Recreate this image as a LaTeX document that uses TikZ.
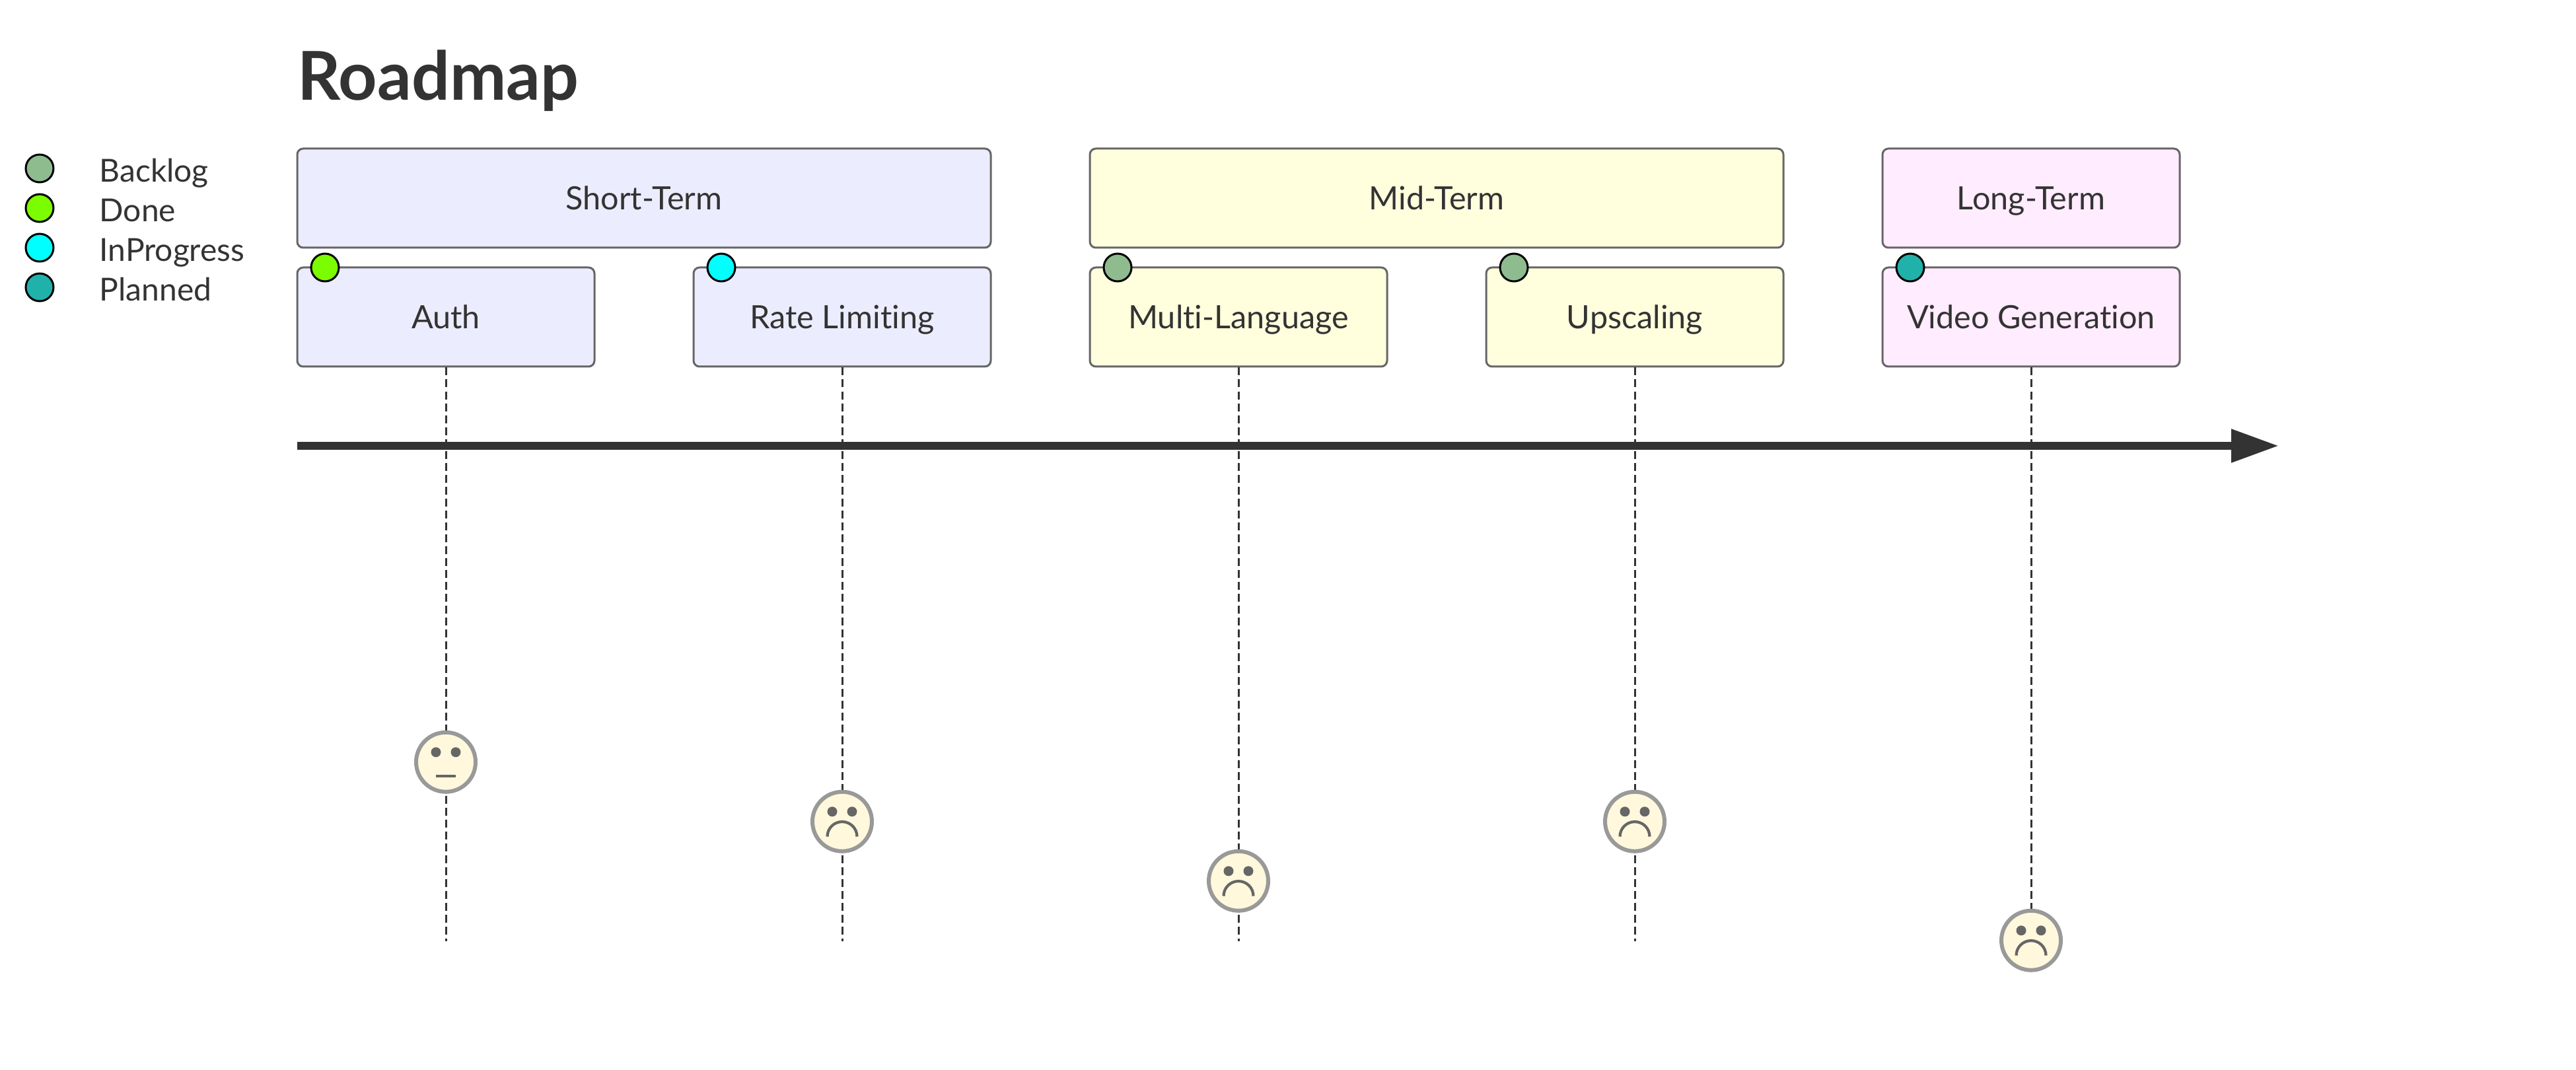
\documentclass[tikz,border=0pt]{standalone}
\usepackage{fontspec}
\setmainfont[Ligatures=NoCommon]{Lato}
\usetikzlibrary{arrows.meta}
\definecolor{textColor}{HTML}{333333}
\definecolor{boxLine}{HTML}{666666}
\definecolor{faceLine}{HTML}{999999}
\definecolor{faceFill}{HTML}{FFF8DC}
\definecolor{featureColor}{HTML}{666666}
\definecolor{shortFill}{HTML}{ECECFF}
\definecolor{midFill}{HTML}{FFFFDE}
\definecolor{longFill}{HTML}{FFECFE}
\definecolor{backlogColor}{HTML}{8FBC8F}
\definecolor{doneColor}{HTML}{7CFC00}
\definecolor{progressColor}{HTML}{00FFFF}
\definecolor{plannedColor}{HTML}{20B2AA}
\tikzstyle{roadmap} = [x = 1pt, y = -1pt, every node/.style={text=textColor, font=\fontsize{16.2}{19}\selectfont}]
\tikzstyle{boxStyle} = [draw=boxLine, line width=1pt, rounded corners=3pt, inner sep=0pt, minimum height=50pt, text height=15pt, text depth=3pt, align=center]
\tikzstyle{statusDot} = [circle, draw=black, line width=1pt, inner sep=0pt, minimum size=14pt]
\tikzstyle{timeLine} = [draw=textColor, line width=1pt, dash pattern=on 4pt off 2pt]
\tikzstyle{axisLine} = [draw=textColor, line width=4pt, -{Triangle[length=24pt,width=16pt]}]
\tikzstyle{faceStyle} = [circle, draw=faceLine, fill=faceFill, line width=2pt, inner sep=0pt, minimum size=30pt]
\tikzstyle{mouthStyle} = [draw=featureColor, line width=1.4pt]
\newcommand{\sectionBox}[5]{\node (#1) [boxStyle, fill=#4, minimum width=#3pt] at (#2 + #3 / 2, 100) {#5};}
\newcommand{\taskBox}[4]{
  \node (#1) [boxStyle, fill=#3, minimum width=150pt] at (#2 + 75, 160) {#4};
  \coordinate (#1Bottom) at (#2 + 75, 475);
}
\newcommand{\statusMark}[3]{\node (#1Status) [statusDot, fill=#3] at (#2 + 14, 135) {};}
\newcommand{\faceBase}[3]{
  \node (#1Face) [faceStyle] at (#2, #3) {};
  \fill [featureColor] (#2 - 5, #3 - 5) circle [radius=2.5pt];
  \fill [featureColor] (#2 + 5, #3 - 5) circle [radius=2.5pt];
}
\newcommand{\neutralFace}[3]{
  \faceBase{#1}{#2}{#3}
  \draw [mouthStyle] (#2 - 5, #3 + 7) -- + (10, 0);
}
\newcommand{\sadFace}[3]{
  \faceBase{#1}{#2}{#3}
  \draw [mouthStyle] (#2 - 7.5, #3 + 7.6) arc [start angle=180, end angle=0, radius=7.5pt];
}

\begin{document}
\begin{tikzpicture}[roadmap]
  \useasboundingbox (0,0) rectangle (1300,540);

  \node (roadmapTitle) [anchor=base west, inner sep=0pt, font=\fontsize{34}{38}\selectfont\bfseries] at (150, 50.6) {Roadmap};

  % legend
  \foreach \legendY/\legendColor/\legendText in {85/backlogColor/Backlog, 105/doneColor/Done, 125/progressColor/InProgress, 145/plannedColor/Planned} {
    \node (dot\legendText) [statusDot, fill=\legendColor] at (20, \legendY) {};
    \node (label\legendText) [anchor=base west, inner sep=0pt, font=\fontsize{16}{19}\selectfont] at (50, \legendY + 7) {\legendText};
  }

  \sectionBox{shortTerm}{150}{350}{shortFill}{Short-Term}
  \sectionBox{midTerm}{550}{350}{midFill}{Mid-Term}
  \sectionBox{longTerm}{950}{150}{longFill}{Long-Term}

  \taskBox{auth}{150}{shortFill}{Auth}
  \taskBox{rateLimit}{350}{shortFill}{Rate Limiting}
  \taskBox{multiLang}{550}{midFill}{Multi-Language}
  \taskBox{upscaling}{750}{midFill}{Upscaling}
  \taskBox{videoGen}{950}{longFill}{Video Generation}

  \coordinate (axisStart) at (150, 225);
  \coordinate (axisEnd) at (1150, 225);
  \draw [axisLine] (axisStart) -- (axisEnd);

  \foreach \taskName in {auth, rateLimit, multiLang, upscaling, videoGen} {
    \draw [timeLine] (\taskName.south) -- (\taskName Bottom);
  }

  \neutralFace{auth}{225}{384.6}
  \sadFace{rateLimit}{425}{414.6}
  \sadFace{multiLang}{625}{444.6}
  \sadFace{upscaling}{825}{414.6}
  \sadFace{videoGen}{1025}{474.6}

  \statusMark{auth}{150}{doneColor}
  \statusMark{rateLimit}{350}{progressColor}
  \statusMark{multiLang}{550}{backlogColor}
  \statusMark{upscaling}{750}{backlogColor}
  \statusMark{videoGen}{950}{plannedColor}
\end{tikzpicture}
\end{document}
